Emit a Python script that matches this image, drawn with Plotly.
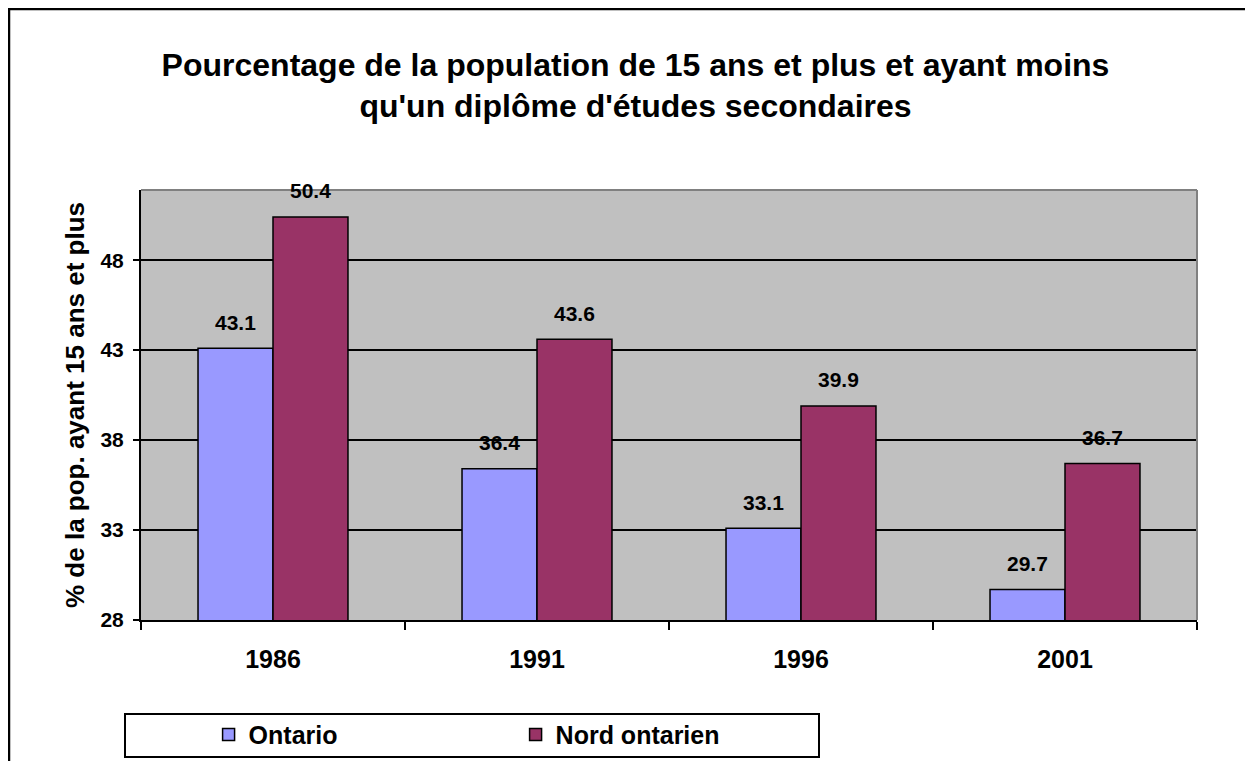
import plotly.graph_objects as go

years = ["1986", "1991", "1996", "2001"]
ontario = [43.1, 36.4, 33.1, 29.7]
nord_ontarien = [50.4, 43.6, 39.9, 36.7]
y_ticks = [28, 33, 38, 43, 48]

FONT = "Liberation Sans, Arial, sans-serif"
BOLD = "bold"

W, H = 1245, 753
L, R, T, B = 133, 56, 182, 141
BARGAP = 0.432

fig = go.Figure()
fig.add_trace(go.Bar(
    x=years, y=ontario, name="Ontario",
    marker=dict(color="#9999FF", line=dict(color="black", width=1.5)),
))
fig.add_trace(go.Bar(
    x=years, y=nord_ontarien, name="Nord ontarien",
    marker=dict(color="#993366", line=dict(color="black", width=1.5)),
))

# data labels above bars (x given as category index)
plot_w = W - L - R
bar_w = plot_w / len(years) * (1 - BARGAP) / 2
for series, shift in ((ontario, -bar_w / 2), (nord_ontarien, bar_w / 2)):
    for i, v in enumerate(series):
        fig.add_annotation(
            x=i, y=v, xref="x", yref="y", text=f"{v:.1f}", showarrow=False,
            xshift=shift, yshift=26, yanchor="middle",
            font=dict(size=21, family=FONT, color="black", weight=BOLD),
        )

fig.update_layout(
    width=W, height=H,
    margin=dict(l=L, r=R, t=T, b=B, autoexpand=False),
    paper_bgcolor="white", plot_bgcolor="#C0C0C0",
    font=dict(family=FONT, color="black"),
    barmode="group", bargap=BARGAP, bargroupgap=0,
    title=dict(
        text="Pourcentage de la population de 15 ans et plus et ayant moins<br>qu'un diplôme d'études secondaires",
        x=0.504, xanchor="center", y=0.91, yanchor="middle",
        font=dict(size=32, family=FONT, color="black", weight=BOLD),
    ),
    xaxis=dict(
        type="category", tickson="boundaries", ticks="outside", ticklen=8,
        tickcolor="black", tickwidth=1.5,
        showline=True, linecolor="black", linewidth=2,
        tickfont=dict(size=25, family=FONT, color="black", weight=BOLD),
        ticklabelstandoff=16, showgrid=False, tickangle=0,
    ),
    yaxis=dict(
        range=[28, 51.9], tickvals=y_ticks, ticks="outside", ticklen=6,
        tickcolor="black", tickwidth=1.5,
        showline=True, linecolor="black", linewidth=2,
        showgrid=True, gridcolor="black", gridwidth=2,
        tickfont=dict(size=21, family=FONT, color="black", weight=BOLD),
        ticklabelstandoff=5,
        title=dict(text="% de la pop. ayant 15 ans et plus",
                   font=dict(size=26, family=FONT, color="black", weight=BOLD),
                   standoff=8),
        zeroline=False,
    ),
    legend=dict(
        orientation="h", x=0.064, xanchor="left", y=-0.267, yanchor="middle",
        font=dict(size=25, family=FONT, color="black", weight=BOLD),
        entrywidth=262, entrywidthmode="pixels",
        bgcolor="rgba(0,0,0,0)", itemclick=False,
    ),
    showlegend=True,
)

ph = 430.0
pw = 1056.0
def px_x(p):
    return (p - 141) / pw
def px_y(p):
    return (620 - p) / ph

shapes = [
    dict(type="rect", xref="paper", yref="paper", x0=px_x(9), x1=px_x(1300),
         y0=px_y(800), y1=px_y(9), line=dict(color="black", width=2.5)),
    dict(type="line", xref="paper", yref="paper", x0=0, x1=1, y0=1, y1=1,
         line=dict(color="#808080", width=2)),
    dict(type="line", xref="paper", yref="paper", x0=1, x1=1, y0=0, y1=1,
         line=dict(color="#808080", width=2)),
    dict(type="rect", xref="paper", yref="paper", x0=px_x(125), x1=px_x(819),
         y0=px_y(757), y1=px_y(714), line=dict(color="black", width=2),
         fillcolor="rgba(0,0,0,0)"),
]
fig.update_layout(shapes=shapes)

fig.write_html("out.html")
